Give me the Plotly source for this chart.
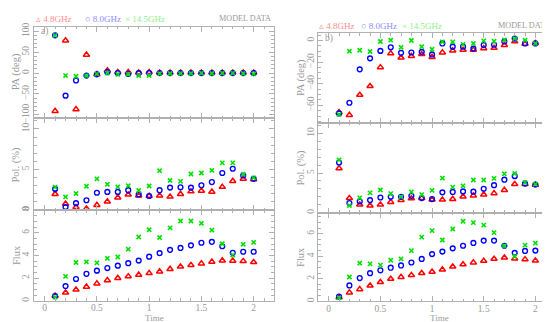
import plotly.graph_objects as go

W, H = 550, 322

time = [0.1, 0.2, 0.3, 0.4, 0.5, 0.6, 0.7, 0.8, 0.9, 1.0,
        1.1, 1.2, 1.3, 1.4, 1.5, 1.6, 1.7, 1.8, 1.9, 2.0]

# ---- panel a) ----
a_pa_48 = [-90.7, 77.7, -86.7, 43.5, -3, 6, 2, 2, 1, 2, 1, 1, 1, 1, 1, 1, 1, 1, 1, 1]
a_pa_80 = [90, -54, -17.7, -6, -3, 2, 0, -2.3, 0, 0, 0, 0, 0, 0, 0, 0, 0, 0, 0, 0]
a_pa_145 = [90, -6, -7.7, -6, -2, 0, -3, -3, -6, -6, -1.5, -1, -1, -1, 0, -1, 0, 0, -1, -2]

a_pol_48 = [1.93, 0.72, 0.31, 0.12, 0.56, 1.0, 1.49, 1.85, 1.73, 1.69,
            1.73, 1.6, 1.93, 2.25, 2.33, 2.21, 2.81, 3.54, 3.82, 3.74]
a_pol_80 = [2.57, 0.31, 0.8, 1.16, 2.09, 2.2, 2.2, 2.41, 1.88, 1.69,
            2.41, 2.73, 2.77, 2.73, 3.02, 3.42, 4.54, 5.07, 4.23, 3.82]
a_pol_145 = [2.78, 1.57, 2.0, 2.9, 3.82, 3.14, 2.81, 2.97, 2.37, 2.93,
             4.83, 3.62, 3.5, 4.42, 4.54, 4.87, 5.8, 5.8, 4.38, 3.94]

a_flux_48 = [0.43, 0.71, 0.97, 1.23, 1.52, 1.81, 2.0, 2.15, 2.29, 2.43,
             2.58, 2.8, 3.01, 3.15, 3.29, 3.44, 3.55, 3.53, 3.5, 3.41]
a_flux_80 = [0.4, 1.29, 1.92, 2.38, 2.66, 2.89, 3.1, 3.32, 3.55, 3.9,
             4.21, 4.5, 4.67, 4.9, 5.13, 5.21, 4.82, 4.24, 4.33, 4.33]
a_flux_145 = [0.31, 2.15, 3.38, 3.44, 3.35, 3.75, 3.87, 4.56, 5.64, 6.28,
              5.59, 6.45, 7.05, 7.05, 6.85, 6.25, 5.04, 4.04, 4.99, 5.16]

# ---- panel b) ----
b_pa_48 = [-66.5, -69, -50.4, -42.3, -24.9, -12, -15.9, -14.4, -12.6, -15.3,
           -11.1, -9.3, -8.7, -8.7, -7.2, -6.9, -4.2, -0.9, -3, -2.4]
b_pa_80 = [-67.5, -57.6, -26.7, -16.5, -9.6, -6.3, -11.4, -11.1, -10.5, -12.9,
           -2.7, -5.7, -5.7, -7.5, -4.2, -3.9, -0.9, 1.8, -2.7, -2.7]
b_pa_145 = [-68.4, -9.9, -9, -10.2, -0.9, 0.3, -6.3, 0, -5.7, -8.1,
            -1.2, -1.2, -3.6, -2.7, -0.3, -0.6, 0.6, 1.8, 0.3, -2.7]

b_pol_48 = [5.59, 1.84, 1.02, 0.9, 1.02, 1.35, 1.59, 1.8, 1.84, 1.64,
            1.64, 1.72, 2.04, 2.17, 2.29, 2.45, 2.86, 3.6, 3.6, 3.51]
b_pol_80 = [6.33, 1.22, 1.43, 1.59, 1.92, 2.0, 2.0, 2.13, 1.84, 1.72,
            2.57, 2.62, 2.69, 2.65, 3.02, 3.47, 4.16, 4.61, 3.67, 3.55]
b_pol_145 = [6.65, 0.9, 1.88, 2.5, 2.86, 2.41, 2.0, 2.62, 2.29, 2.82,
             4.37, 3.23, 3.39, 4.12, 4.12, 4.33, 4.9, 4.94, 3.8, 3.6]

b_flux_48 = [0.34, 0.77, 1.06, 1.38, 1.69, 1.98, 2.15, 2.32, 2.49, 2.61,
             2.81, 3.07, 3.27, 3.44, 3.58, 3.76, 3.87, 3.78, 3.72, 3.61]
b_flux_80 = [0.4, 1.4, 2.06, 2.49, 2.75, 2.98, 3.18, 3.44, 3.76, 4.19,
             4.41, 4.7, 4.93, 5.18, 5.39, 5.39, 4.93, 4.3, 4.47, 4.5]
b_flux_145 = [0.3, 2.15, 3.38, 3.32, 3.21, 3.64, 3.76, 4.5, 5.7, 6.28,
              5.44, 6.42, 7.11, 6.99, 6.77, 6.1, 4.93, 3.98, 4.99, 5.16]

series_names = ["4.8GHz", "8.0GHz", "14.5GHz"]
legend_symbols = ["\u25b5", "\u25cb", "\u00d7"]
x_ticks = [0, 0.5, 1, 1.5, 2]
x_tick_text = ["0", "0.5", "1", "1.5", "2"]

GREY = "#b0b0b0"
TXT = "#9a9a9a"
FONT = "Liberation Serif"
RED, BLUE, GREEN = "#ff0000", "#0000ff", "#00e000"
LRED, LBLUE, LGREEN = "#ff8c8c", "#8c8cff", "#8cf08c"


def px(x):
    return x / W


def py(y):
    return 1 - y / H


fig = go.Figure()

panels = [
    dict(xdom=(26.2, 265.5), xr=(-0.1, 2.19),
         subs=[((15, 109.3), (-108, 111), 50, 10, [a_pa_48, a_pa_80, a_pa_145]),
               ((109.3, 204), (-0.085, 11.33), 5, 1, [a_pol_48, a_pol_80, a_pol_145]),
               ((204, 297), (0, 8.0), 2, 0.5, [a_flux_48, a_flux_80, a_flux_145])]),
    dict(xdom=(310.4, 546.7), xr=(-0.1, 2.187),
         subs=[((22, 114), (-76.2, 6.6), 20, 5, [b_pa_48, b_pa_80, b_pa_145]),
               ((114, 206.5), (0, 11.33), 5, 1, [b_pol_48, b_pol_80, b_pol_145]),
               ((206.5, 297.5), (0, 7.87), 2, 0.5, [b_flux_48, b_flux_80, b_flux_145])]),
]

styles = [
    dict(symbol="triangle-up-open", size=5.5, color=RED, line=dict(width=1.5, color=RED)),
    dict(symbol="circle-open", size=4.8, color=BLUE, line=dict(width=1.4, color=BLUE)),
    dict(symbol="x-thin", size=4.2, color=GREEN, line=dict(width=1.6, color=GREEN)),
]

idx = 0
for p in panels:
    for k, (ydom, yr, dt, mdt, ser) in enumerate(p["subs"]):
        idx += 1
        sx = "" if idx == 1 else str(idx)
        for s, st in zip(ser, styles):
            fig.add_trace(go.Scatter(x=time, y=s, mode="markers", marker=st,
                                     xaxis="x" + sx, yaxis="y" + sx,
                                     showlegend=False, cliponaxis=False))
        last = (k == 2)
        fig.layout["xaxis" + sx] = dict(
            domain=[px(p["xdom"][0]), px(p["xdom"][1])], range=list(p["xr"]),
            anchor="y" + sx, showgrid=False, zeroline=False,
            showline=True, linecolor=GREY, linewidth=1, mirror="ticks",
            ticks="inside", ticklen=5, tickcolor=GREY, tickwidth=1,
            tickvals=x_ticks, ticktext=x_tick_text, showticklabels=last,
            ticklabelstandoff=-2,
            tickfont=dict(family=FONT, size=9.5, color=TXT),
            minor=dict(ticks="inside", ticklen=2.5, dtick=0.1, tickcolor=GREY, showgrid=False),
        )
        fig.layout["yaxis" + sx] = dict(
            domain=[py(ydom[1]), py(ydom[0])], range=list(yr),
            anchor="x" + sx, showgrid=False, zeroline=False,
            showline=True, linecolor=GREY, linewidth=1, mirror="ticks",
            ticks="inside", ticklen=5, tickcolor=GREY, tickwidth=1,
            dtick=dt, tick0=0, tickangle=-90,
            tickfont=dict(family=FONT, size=9.5, color=TXT),
            minor=dict(ticks="inside", ticklen=2.5, dtick=mdt, tickcolor=GREY, showgrid=False),
        )

ann = []


def A(x, y, text, color=TXT, size=10, angle=0, xanchor="center"):
    ann.append(dict(x=px(x), y=py(y), xref="paper", yref="paper", text=text,
                    showarrow=False, textangle=angle, xanchor=xanchor, yanchor="middle",
                    borderpad=0,
                    font=dict(family=FONT, size=size, color=color)))


# axis titles
for xt, ys in [(8, (62, 157, 250)), (293, (68, 160, 252))]:
    A(xt, ys[0], "PA (deg)", angle=-90, size=10.5)
    A(xt, ys[1], "Pol. (%)", angle=-90, size=10.5)
    A(xt, ys[2], "Flux", angle=-90, size=10.5)
A(146, 315, "Time", size=9)
A(431, 315, "Time", size=9)

# panel labels
A(32, 20, "a)", xanchor="left", size=9.5)
A(316, 27, "b)", xanchor="left", size=9.5)

# legends
for (y0, xs, xm) in [(7, (27, 76, 116), 264), (14, (310, 352, 393), 543)]:
    for x0, sym, name, c in zip(xs, legend_symbols, series_names, [LRED, LBLUE, LGREEN]):
        A(x0, y0, sym + " " + name, color=c, size=9, xanchor="left")
    A(xm, y0, "MODEL DATA", size=8.2, xanchor="right")

fig.update_layout(width=W, height=H, margin=dict(l=0, r=0, t=0, b=0),
                  paper_bgcolor="white", plot_bgcolor="white",
                  annotations=ann, showlegend=False)

fig.write_html("out.html")
